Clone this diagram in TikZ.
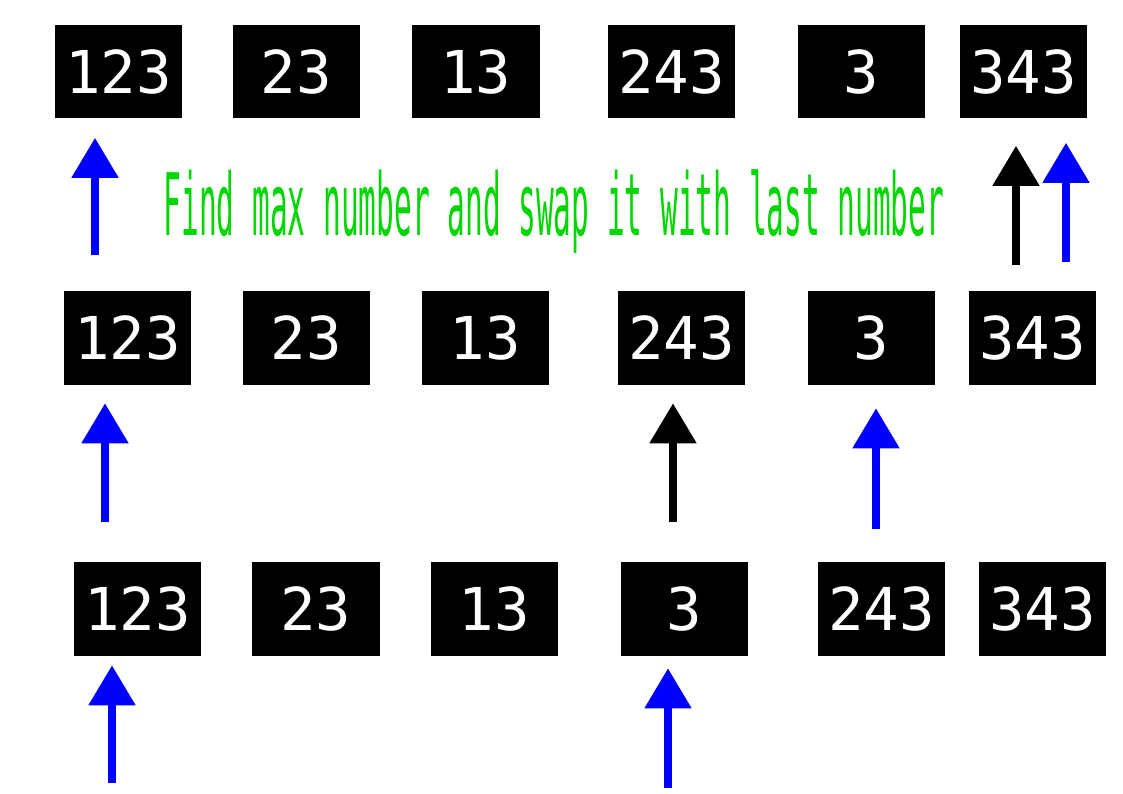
\documentclass[tikz,border=0pt]{standalone}
\usepackage{fontspec}
\newfontfamily\monofont{DejaVu Sans Mono}
\usetikzlibrary{arrows.meta}
\definecolor{notegreen}{RGB}{0,215,0}
\tikzset{
    numbox/.style={fill=black, text=white, minimum width=1.27cm, minimum height=0.93cm, inner sep=0pt, font=\monofont\fontsize{16.8}{18}\selectfont},
    pointer/.style={-{Triangle[width=0.45cm,length=0.4cm]}, line width=0.08cm},
}
\begin{document}
\begin{tikzpicture}[x=0.01cm, y=-0.01cm]
        \useasboundingbox (0,0) rectangle (1123,794);
        % three passes of the array
        \foreach \x/\num [count=\i] in {118.5/123, 296.5/23, 476/13, 671.5/243, 861.5/3, 1023.5/343}
            \node[numbox] (a\i) at (\x,71.5) {\num};
        \foreach \x/\num [count=\i] in {127.5/123, 306.5/23, 485.5/13, 681.5/243, 871.5/3, 1032.5/343}
            \node[numbox] (b\i) at (\x,338) {\num};
        \foreach \x/\num [count=\i] in {137.5/123, 316/23, 494.5/13, 684.5/3, 881.5/243, 1042.5/343}
            \node[numbox] (c\i) at (\x,609) {\num};
        \node[anchor=base, text=notegreen, font=\monofont\fontsize{24.5}{26}\selectfont] (note) at (554,236)
            {\scalebox{0.342}[1]{Find max number and swap it with last number}};
        % pointers
        \coordinate (pa1) at (95,255);
        \coordinate (pa5) at (1016,265);
        \coordinate (pa6) at (1066,262);
        \coordinate (pb1) at (105,522);
        \coordinate (pb4) at (673,522);
        \coordinate (pb5) at (876,529);
        \coordinate (pc1) at (112,783);
        \coordinate (pc4) at (668,788);
        \draw[pointer, blue, shorten >=0.19cm] (pa1) -- (pa1 |- a1.south);
        \draw[pointer, black, shorten >=0.27cm] (pa5) -- (pa5 |- a6.south);
        \draw[pointer, blue, shorten >=0.24cm] (pa6) -- (pa6 |- a6.south);
        \draw[pointer, blue, shorten >=0.18cm] (pb1) -- (pb1 |- b1.south);
        \draw[pointer, black, shorten >=0.18cm] (pb4) -- (pb4 |- b4.south);
        \draw[pointer, blue, shorten >=0.23cm] (pb5) -- (pb5 |- b5.south);
        \draw[pointer, blue, shorten >=0.09cm] (pc1) -- (pc1 |- c1.south);
        \draw[pointer, blue, shorten >=0.12cm] (pc4) -- (pc4 |- c4.south);
    \end{tikzpicture}
\end{document}
